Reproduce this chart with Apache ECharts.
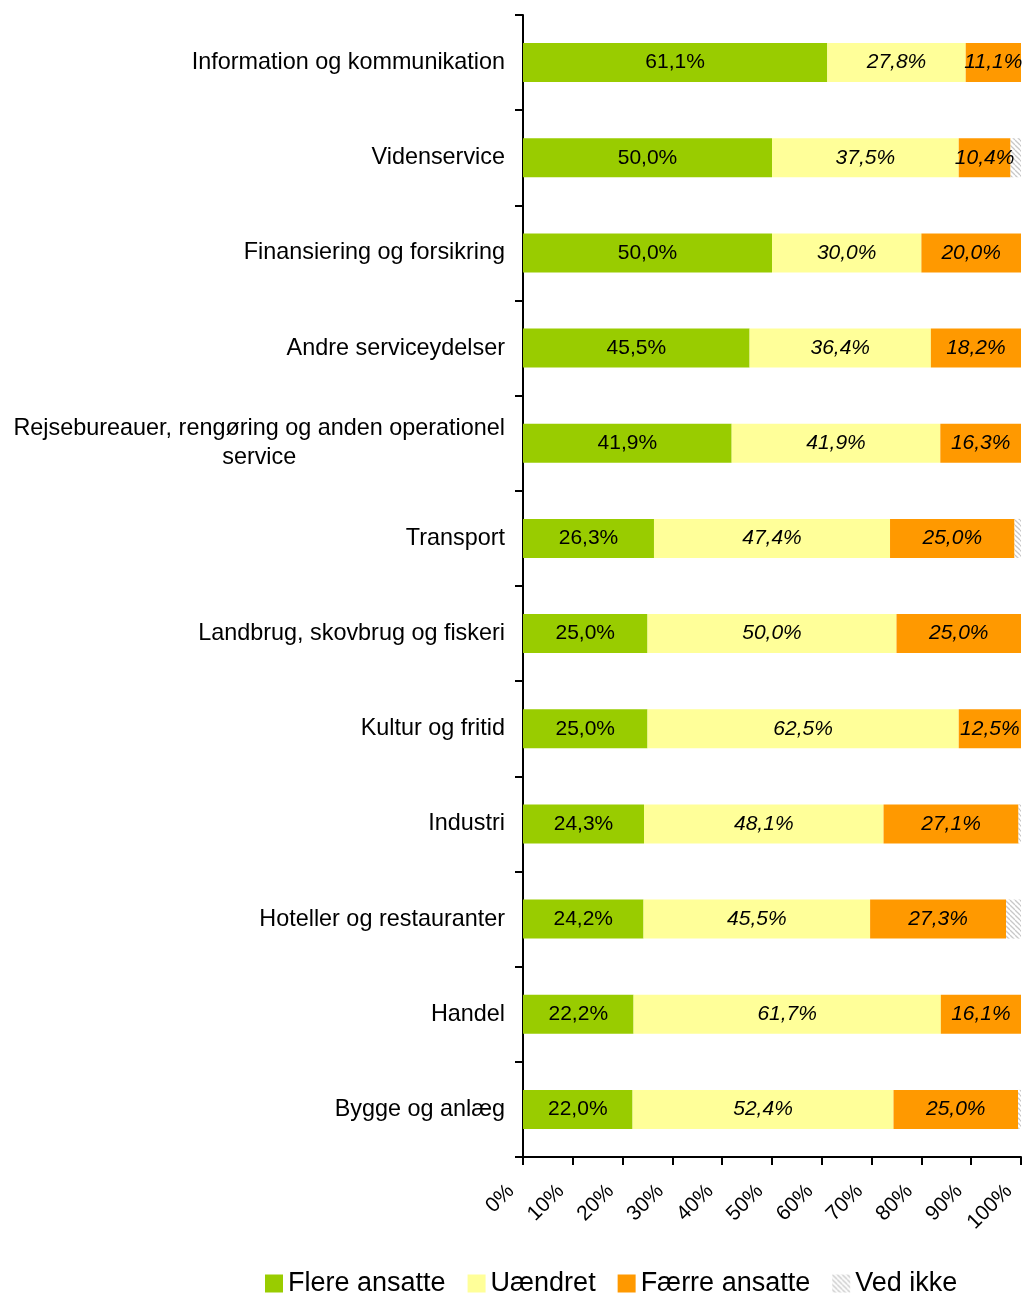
<!DOCTYPE html>
<html>
<head>
<meta charset="utf-8">
<script src="https://cdn.jsdelivr.net/npm/echarts@6/dist/echarts.min.js"></script>
<style>
html,body{margin:0;padding:0;background:#fff;overflow:hidden;}
#chart{width:1023px;height:1295px;}
</style>
</head>
<body>
<div id="chart"></div>
<script>
const categories = [
  'Information og kommunikation',
  'Videnservice',
  'Finansiering og forsikring',
  'Andre serviceydelser',
  'Rejsebureauer, rengøring og anden operationel\nservice',
  'Transport',
  'Landbrug, skovbrug og fiskeri',
  'Kultur og fritid',
  'Industri',
  'Hoteller og restauranter',
  'Handel',
  'Bygge og anlæg'
];
const seriesNames = ['Flere ansatte', 'Uændret', 'Færre ansatte', 'Ved ikke'];
const flere    = [61.1, 50.0, 50.0, 45.5, 41.9, 26.3, 25.0, 25.0, 24.3, 24.2, 22.2, 22.0];
const uaendret = [27.8, 37.5, 30.0, 36.4, 41.9, 47.4, 50.0, 62.5, 48.1, 45.5, 61.7, 52.4];
const faerre   = [11.1, 10.4, 20.0, 18.2, 16.3, 25.0, 25.0, 12.5, 27.1, 27.3, 16.1, 25.0];
const vedIkke  = [0, 2.1, 0, 0, 0, 1.3, 0, 0, 0.5, 3.0, 0, 0.6];
const tickValues = [0, 10, 20, 30, 40, 50, 60, 70, 80, 90, 100];

const FONT = '"Liberation Sans", Arial, sans-serif';

// hatch pattern for "Ved ikke"
const pc = document.createElement('canvas');
pc.width = 5; pc.height = 5;
const pctx = pc.getContext('2d');
pctx.fillStyle = '#ffffff';
pctx.fillRect(0, 0, 5, 5);
pctx.strokeStyle = '#c8c8c8';
pctx.lineWidth = 1.3;
[-5, 0, 5].forEach(function (o) {
  pctx.beginPath();
  pctx.moveTo(o, 0);
  pctx.lineTo(o + 5, 5);
  pctx.stroke();
});

function fmt(p) {
  return p.value.toFixed(1).replace('.', ',') + '%';
}

const chart = echarts.init(document.getElementById('chart'), null, { renderer: 'canvas' });

const labelBase = {
  show: true,
  position: 'inside',
  color: '#000',
  fontFamily: FONT,
  fontSize: 21,
  formatter: fmt
};

chart.setOption({
  animation: false,
  backgroundColor: '#ffffff',
  textStyle: { fontFamily: FONT },
  grid: { left: 523, right: 2, top: 15, bottom: 138, containLabel: false, outerBoundsMode: 'none' },
  legend: {
    data: seriesNames,
    left: 260,
    top: 1265,
    itemWidth: 18,
    itemHeight: 18,
    itemGap: 22,
    icon: 'rect',
    textStyle: { fontFamily: FONT, fontSize: 27, color: '#000' }
  },
  xAxis: {
    type: 'value',
    min: tickValues[0],
    max: tickValues[tickValues.length - 1],
    interval: 10,
    axisLine: { show: true, lineStyle: { color: '#000', width: 2 } },
    axisTick: { show: true, length: 8, lineStyle: { color: '#000', width: 2 } },
    splitLine: { show: false },
    axisLabel: {
      rotate: 45,
      margin: 19,
      padding: [0, 17, 0, 0],
      fontFamily: FONT,
      fontSize: 21,
      color: '#000',
      formatter: '{value}%'
    }
  },
  yAxis: {
    type: 'category',
    inverse: true,
    data: categories,
    axisLine: { show: true, lineStyle: { color: '#000', width: 2 } },
    axisTick: { show: true, length: 8, lineStyle: { color: '#000', width: 2 } },
    axisLabel: {
      margin: 18,
      color: '#000',
      fontFamily: FONT,
      fontSize: 23.4,
      lineHeight: 29,
      formatter: function (v) {
        return v.split('\n').map(function (l) { return '{c|' + l + '}'; }).join('\n');
      },
      rich: {
        c: { align: 'center', fontFamily: FONT, fontSize: 23.4, lineHeight: 29, color: '#000' }
      }
    }
  },
  series: [
    {
      name: seriesNames[0], type: 'bar', stack: 'total', barWidth: 39,
      itemStyle: { color: '#99cc00' },
      label: Object.assign({}, labelBase),
      data: flere
    },
    {
      name: seriesNames[1], type: 'bar', stack: 'total', barWidth: 39,
      itemStyle: { color: '#ffff99' },
      label: Object.assign({}, labelBase, { fontStyle: 'italic' }),
      data: uaendret
    },
    {
      name: seriesNames[2], type: 'bar', stack: 'total', barWidth: 39,
      itemStyle: { color: '#ff9900' },
      label: Object.assign({}, labelBase, { fontStyle: 'italic' }),
      data: faerre
    },
    {
      name: seriesNames[3], type: 'bar', stack: 'total', barWidth: 39,
      itemStyle: { color: { image: pc, repeat: 'repeat' } },
      label: { show: false },
      data: vedIkke
    }
  ]
});
</script>
</body>
</html>
